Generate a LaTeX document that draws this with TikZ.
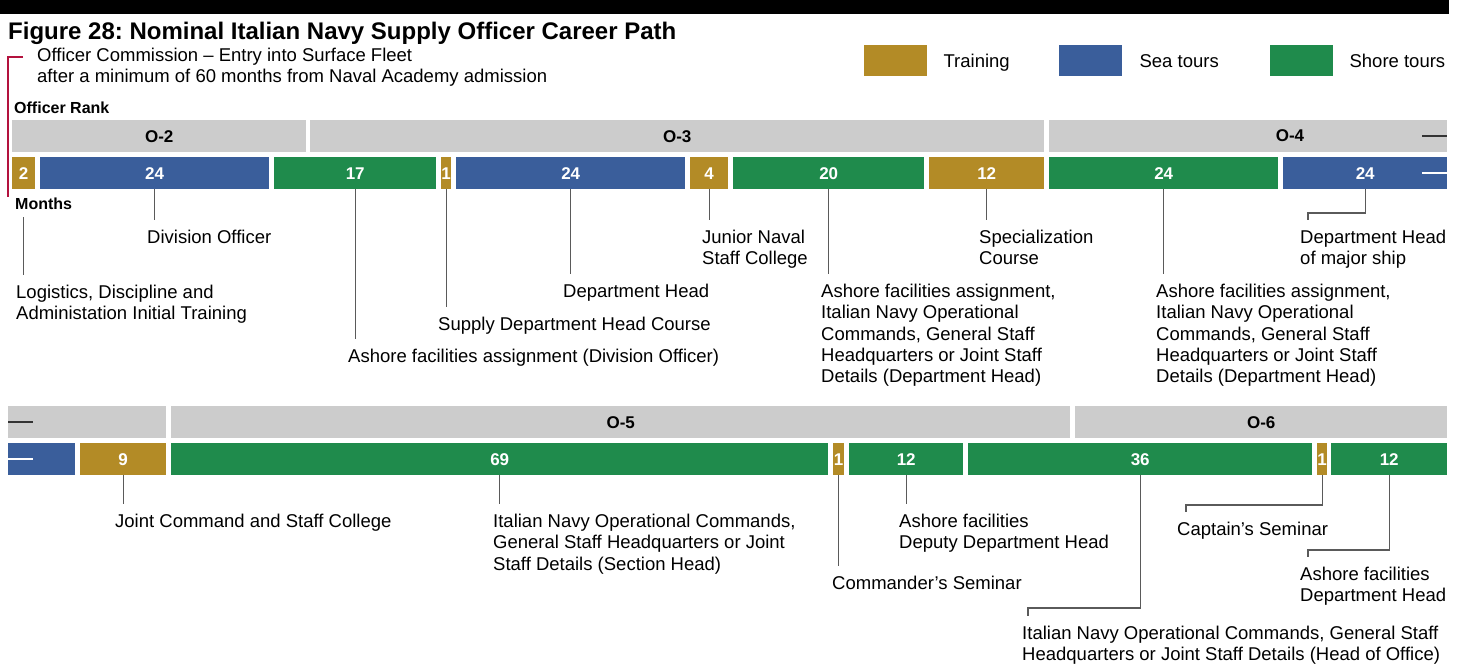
\documentclass[tikz,border=0pt]{standalone}
\usepackage{fontspec}
\setmainfont{Liberation Sans}
\usetikzlibrary{positioning}
\definecolor{train}{HTML}{B38B26}
\definecolor{sea}{HTML}{3A5E9B}
\definecolor{shore}{HTML}{1F8B4C}
\definecolor{rankgray}{HTML}{CCCCCC}
\definecolor{linkgray}{HTML}{5A5A5A}
\definecolor{crimson}{HTML}{B3123E}
\frenchspacing
\begin{document}
\begin{tikzpicture}[x=1pt, y=-1pt,
    rankbar/.style={fill=rankgray, anchor=north west, minimum height=32pt, inner sep=0pt, font=\fontsize{17}{20}\selectfont\bfseries},
    durbar/.style={anchor=north west, minimum height=32pt, inner sep=0pt, text=white, font=\fontsize{17}{20}\selectfont\bfseries},
    note/.style={anchor=north west, inner sep=0pt, align=left, font=\fontsize{18.5}{21.3}\selectfont},
    head/.style={anchor=west, inner sep=0pt, font=\fontsize{16}{19}\selectfont\bfseries},
    legbox/.style={anchor=north west, minimum width=63pt, minimum height=31pt, inner sep=0pt},
    legtext/.style={inner sep=0pt, text height=13.3pt, text depth=0pt, font=\fontsize{18.5}{21.3}\selectfont},
    link/.style={draw=linkgray, line width=1.3pt, shorten >=10pt},
    brk/.style={line width=2pt}]
    \useasboundingbox (0,0) rectangle (1461,667);

    % 1. title, legend
    \fill[black] (0,0) rectangle (1449,14);
    \node[anchor=north west, inner sep=0pt, font=\fontsize{24}{28}\selectfont\bfseries] (title) at (8,22) {Figure 28: Nominal Italian Navy Supply Officer Career Path};
    \node[legbox, fill=train] (ktrain) at (864,45) {};
    \node[legtext, right=16pt of ktrain] (ttrain) {Training};
    \node[legbox, fill=sea] (ksea) at (1059,45) {};
    \node[legtext, right=17pt of ksea] (tsea) {Sea tours};
    \node[legbox, fill=shore] (kshore) at (1270,45) {};
    \node[legtext, right=16pt of kshore] (tshore) {Shore tours};

    % 2. commission note
    \node[note] (oc) at (37,48) {Officer Commission – Entry into Surface Fleet\\after a minimum of 60 months from Naval Academy admission};
    \coordinate (rt) at (23,57);
    \coordinate (rb) at (8,197);
    \draw[crimson, line width=2pt] (rt) -| (rb);
    \node[head] (orank) at (14,108) {Officer Rank};
    \node[head] (months) at (15,204) {Months};

    % 3. first row
    \node[rankbar, minimum width=294pt] (o2) at (12,120) {O-2};
    \node[rankbar, minimum width=734pt] (o3) at (310,120) {O-3};
    \node[rankbar, minimum width=398pt] (o4) at (1049,120) {};
    \node[inner sep=0pt, font=\fontsize{17}{20}\selectfont\bfseries] (o4t) at (1290,136) {O-4};
    \foreach \n/\x/\w/\c/\t in {m2a/12/23/train/2, s24a/40/229/sea/24, h17/274/162/shore/17,
        m1a/441/10/train/1, s24b/456/229/sea/24, m4/690/38/train/4, h20/733/191/shore/20,
        m12/929/115/train/12, h24/1049/229/shore/24, s24c/1283/164/sea/24}
      \node[durbar, fill=\c, minimum width=\w pt] (\n) at (\x,157) {\t};
    \draw[brk, black!80] ([xshift=-25pt]o4.east) -- (o4.east);
    \draw[brk, white] ([xshift=-25pt]s24c.east) -- (s24c.east);

    \node[note] (lm2a) at (16,285) {Logistics, Discipline and\\Administation Initial Training};
    \node[note] (ls24a) at (147,230) {Division Officer};
    \node[note] (lh17) at (348,349) {Ashore facilities assignment (Division Officer)};
    \node[note] (lm1a) at (438,317) {Supply Department Head Course};
    \node[note] (ls24b) at (563,284) {Department Head};
    \node[note] (lm4) at (702,230) {Junior Naval\\Staff College};
    \node[note] (lh20) at (821,284) {Ashore facilities assignment,\\Italian Navy Operational\\Commands, General Staff\\Headquarters or Joint Staff\\Details (Department Head)};
    \node[note] (lm12) at (979,230) {Specialization\\Course};
    \node[note] (lh24) at (1156,284) {Ashore facilities assignment,\\Italian Navy Operational\\Commands, General Staff\\Headquarters or Joint Staff\\Details (Department Head)};
    \node[note] (ls24c) at (1300,230) {Department Head\\of major ship};

    \coordinate (km2a) at ([yshift=-28pt]m2a.south);
    \draw[link] (km2a) -- (km2a |- lm2a.north);
    \foreach \n in {s24a, h17, m1a, s24b, m4, h20, m12, h24}
      \draw[link] (\n.south) -- (\n.south |- l\n.north);
    \coordinate (ks24c) at (1308,213);
    \draw[link] (s24c.south) |- (ks24c) -- (ks24c |- ls24c.north);

    % 4. second row
    \node[rankbar, minimum width=158pt] (r0) at (8,406) {};
    \node[rankbar, minimum width=899pt] (o5) at (171,406) {O-5};
    \node[rankbar, minimum width=372pt] (o6) at (1075,406) {O-6};
    \node[durbar, fill=sea, minimum width=67pt] (s0) at (8,443) {};
    \foreach \n/\x/\w/\c/\t in {m9/80/86/train/9, h69/171/657/shore/69, m1b/833/11/train/1,
        h12a/849/114/shore/12, h36/968/344/shore/36, m1c/1317/10/train/1, h12b/1331/116/shore/12}
      \node[durbar, fill=\c, minimum width=\w pt] (\n) at (\x,443) {\t};
    \draw[brk, black!80] (r0.west) -- ([xshift=25pt]r0.west);
    \draw[brk, white] (s0.west) -- ([xshift=25pt]s0.west);

    \node[note] (lm9) at (115,514) {Joint Command and Staff College};
    \node[note] (lh69) at (493,514) {Italian Navy Operational Commands,\\General Staff Headquarters or Joint\\Staff Details (Section Head)};
    \node[note] (lm1b) at (832,576) {Commander’s Seminar};
    \node[note] (lh12a) at (899,514) {Ashore facilities\\Deputy Department Head};
    \node[note] (lm1c) at (1177,522) {Captain’s Seminar};
    \node[note] (lh12b) at (1300,567) {Ashore facilities\\Department Head};
    \node[note] (lh36) at (1022,626) {Italian Navy Operational Commands, General Staff\\Headquarters or Joint Staff Details (Head of Office)};

    \foreach \n in {m9, h69, m1b, h12a}
      \draw[link] (\n.south) -- (\n.south |- l\n.north);
    \coordinate (kh36) at (1028,608);
    \draw[link] (h36.south) |- (kh36) -- (kh36 |- lh36.north);
    \coordinate (km1c) at (1186,505);
    \draw[link] (m1c.south) |- (km1c) -- (km1c |- lm1c.north);
    \coordinate (kh12b) at (1308,550);
    \draw[link] (h12b.south) |- (kh12b) -- (kh12b |- lh12b.north);
\end{tikzpicture}
\end{document}
